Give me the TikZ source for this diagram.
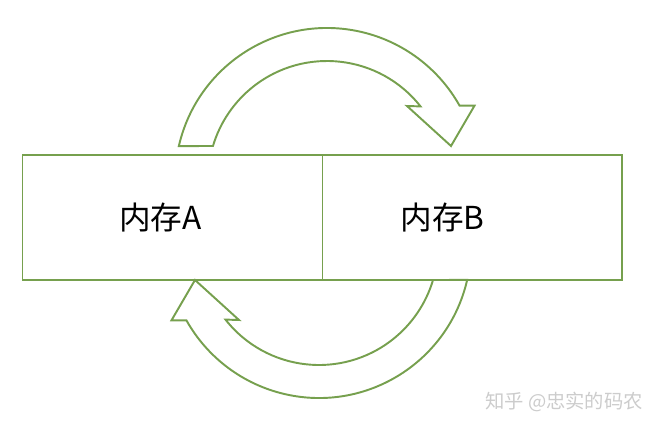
\documentclass[tikz,border=0pt]{standalone}
\usepackage{fontspec}
\setmainfont{Noto Sans CJK SC}
\usepackage{tikz}
\usetikzlibrary{positioning}
\definecolor{memgreen}{RGB}{118,160,78}

\begin{document}
\begin{tikzpicture}[
  x=0.02cm, y=0.02cm,
  memcell/.style={draw=memgreen, line width=1.1pt, outer sep=0pt, minimum width=6cm, minimum height=2.5cm},
  memlabel/.style={font=\fontsize{18}{20}\selectfont, inner sep=0pt},
  swaparrow/.style={draw=memgreen, line width=1.1pt, line join=miter},
  watermark/.style={font=\fontsize{11}{13}\selectfont, text=gray!40, inner sep=0pt},
  node distance=0pt
]
\useasboundingbox (0,0) rectangle (662,430);
\node[memcell] (memA) at (172.5,212.5) {};
\node[memcell, right=of memA] (memB) {};
\node[memlabel] (labA) at ([xshift=-0.24cm]memA.center) {内存A};
\node[memlabel] (labB) at ([xshift=-0.6cm]memB.center) {内存B};
\coordinate (ctop) at (327,250);
\coordinate (cbot) at (319,184);
% upper arrow, A over to B
\draw[swaparrow] ([shift={(167.1:152)}]ctop) arc[start angle=167.1, end angle=29.3, radius=152]
  -- ++(15,0) -- (451,284) -- (407,324) -- ([shift={(38.2:119)}]ctop)
  arc[start angle=38.2, end angle=163.4, radius=119] -- cycle;
% lower arrow, B back to A
\draw[swaparrow] ([shift={(347.1:152)}]cbot) arc[start angle=347.1, end angle=209.3, radius=152]
  -- ++(-15,0) -- (195,150) -- (239,110) -- ([shift={(218.2:119)}]cbot)
  arc[start angle=218.2, end angle=343.4, radius=119] -- cycle;
\node[watermark] (zhihu) at (564,28) {知乎 @忠实的码农};
\end{tikzpicture}
\end{document}
